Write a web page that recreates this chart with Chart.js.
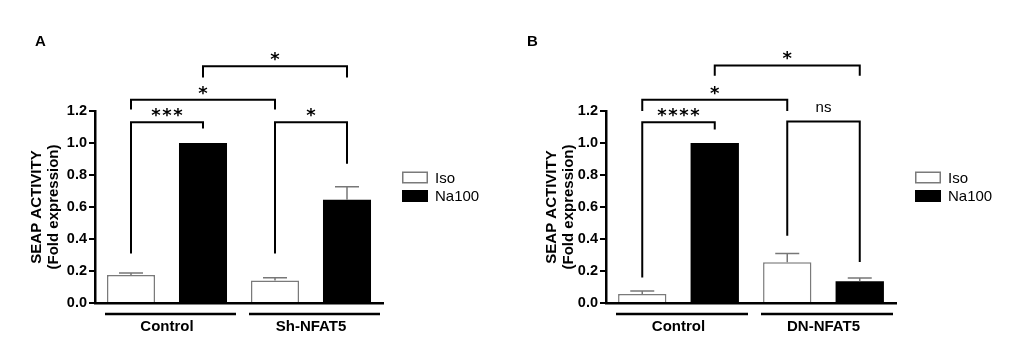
<!DOCTYPE html>
<html>
<head>
<meta charset="utf-8">
<script src="https://cdn.jsdelivr.net/npm/chart.js@4/dist/chart.umd.min.js"></script>
<style>
  html, body { margin: 0; padding: 0; background: #fff; }
  #wrap { position: relative; width: 1016px; height: 362px; }
  canvas { position: absolute; top: 0; }
</style>
</head>
<body>
<div id="wrap">
  <canvas id="chartA" width="508" height="362" style="left:0"></canvas>
  <canvas id="chartB" width="508" height="362" style="left:508px"></canvas>
</div>
<script>
const seriesNames = ["Iso", "Na100"];
const yTicks = [0, 0.2, 0.4, 0.6, 0.8, 1.0, 1.2];
const yTitle = ["SEAP ACTIVITY", "(Fold expression)"];

// panel A
const groupsA = ["Control", "Sh-NFAT5"];
const isoA = [0.175, 0.14];
const isoErrA = [0.013, 0.018];
const naA = [1.0, 0.645];
const naErrA = [0, 0.082];
// from/to = [series, group], top and leg ends in y units
const bracketsA = [
  { from: [0, 0], to: [1, 0], top: 1.13, ends: [0.31, 1.09], label: "***" },
  { from: [0, 0], to: [0, 1], top: 1.27, ends: [1.21, 1.21], label: "*" },
  { from: [0, 1], to: [1, 1], top: 1.13, ends: [0.31, 0.87], label: "*" },
  { from: [1, 0], to: [1, 1], top: 1.48, ends: [1.41, 1.41], label: "*" }
];

// panel B
const groupsB = ["Control", "DN-NFAT5"];
const isoB = [0.056, 0.254];
const isoErrB = [0.019, 0.056];
const naB = [1.0, 0.136];
const naErrB = [0, 0.02];
const bracketsB = [
  { from: [0, 0], to: [1, 0], top: 1.13, ends: [0.16, 1.085], label: "****" },
  { from: [0, 0], to: [0, 1], top: 1.27, ends: [1.2, 1.2], label: "*" },
  { from: [0, 1], to: [1, 1], top: 1.135, ends: [0.42, 0.256], label: "ns" },
  { from: [1, 0], to: [1, 1], top: 1.485, ends: [1.42, 1.42], label: "*" }
];

Chart.defaults.font.family = "'Liberation Sans', Arial, sans-serif";
Chart.defaults.color = "#000";

const annotate = {
  id: "annotate",
  afterDraw(chart, args, opts) {
    const ctx = chart.ctx;
    const x = chart.scales.x, y = chart.scales.y;
    const area = chart.chartArea;
    ctx.save();

    // error bars (upper only)
    chart.data.datasets.forEach((ds, di) => {
      const meta = chart.getDatasetMeta(di);
      meta.data.forEach((bar, i) => {
        const err = opts.errors[di][i];
        if (!err) return;
        const yTop = y.getPixelForValue(ds.data[i] + err);
        ctx.strokeStyle = "#777";
        ctx.lineWidth = 1.5;
        ctx.beginPath();
        ctx.moveTo(bar.x, bar.y);
        ctx.lineTo(bar.x, yTop);
        ctx.moveTo(bar.x - 12, yTop);
        ctx.lineTo(bar.x + 12, yTop);
        ctx.stroke();
      });
    });

    // group underlines
    const cw = area.width / chart.data.labels.length;
    ctx.strokeStyle = "#000";
    ctx.lineWidth = 2.5;
    chart.data.labels.forEach((l, i) => {
      const cx = x.getPixelForValue(i);
      ctx.beginPath();
      ctx.moveTo(cx - cw / 2 + 10, area.bottom + 11);
      ctx.lineTo(cx + cw / 2 - 3, area.bottom + 11);
      ctx.stroke();
    });

    // significance brackets
    ctx.lineWidth = 2;
    ctx.fillStyle = "#000";
    ctx.textAlign = "center";
    ctx.textBaseline = "alphabetic";
    opts.brackets.forEach(b => {
      const p1 = chart.getDatasetMeta(b.from[0]).data[b.from[1]];
      const p2 = chart.getDatasetMeta(b.to[0]).data[b.to[1]];
      const yt = y.getPixelForValue(b.top);
      ctx.beginPath();
      ctx.moveTo(p1.x, y.getPixelForValue(b.ends[0]));
      ctx.lineTo(p1.x, yt);
      ctx.lineTo(p2.x, yt);
      ctx.lineTo(p2.x, y.getPixelForValue(b.ends[1]));
      ctx.stroke();
      const mx = (p1.x + p2.x) / 2;
      if (b.label === "ns") {
        ctx.font = "15px 'Liberation Sans', Arial, sans-serif";
        ctx.fillText(b.label, mx, yt - 9);
      } else {
        ctx.font = "bold 18px 'DejaVu Sans', sans-serif";
        const n = b.label.length;
        for (let k = 0; k < n; k++) {
          ctx.fillText("*", mx - (n - 1) * 11 / 2 + k * 11, yt - 1);
        }
      }
    });

    // legend
    const lx = area.right + 19;
    ctx.textAlign = "left";
    ctx.textBaseline = "middle";
    ctx.font = "15px 'Liberation Sans', Arial, sans-serif";
    chart.data.datasets.forEach((ds, i) => {
      const cy = 177.5 + 18.5 * i;
      ctx.fillStyle = ds.backgroundColor;
      ctx.fillRect(lx, cy - 6, 26, 12);
      if (i === 0) {
        ctx.strokeStyle = ds.borderColor;
        ctx.lineWidth = 1.5;
        ctx.strokeRect(lx + 0.75, cy - 5.25, 24.5, 10.5);
      }
      ctx.fillStyle = "#000";
      ctx.fillText(ds.label, lx + 33, cy + 1);
    });

    // panel letter
    ctx.font = "bold 15px 'Liberation Sans', Arial, sans-serif";
    ctx.fillText(opts.letter, opts.letterX, 42);
    ctx.restore();
  }
};

function makePanel(id, groups, iso, isoErr, na, naErr, brackets, letter, letterX, padLeft, padRight) {
  const ctx = document.getElementById(id);
  return new Chart(ctx, {
    type: "bar",
    data: {
      labels: groups,
      datasets: [{
        label: seriesNames[0],
        data: iso,
        backgroundColor: "#fff",
        borderColor: "#7a7a7a",
        borderWidth: 1.5,
        categoryPercentage: 1.0,
        barPercentage: 0.667
      }, {
        label: seriesNames[1],
        data: na,
        backgroundColor: "#000",
        borderColor: "#000",
        borderWidth: 0,
        categoryPercentage: 1.0,
        barPercentage: 0.667
      }]
    },
    options: {
      responsive: false,
      animation: false,
      layout: { padding: { left: padLeft, right: padRight, top: 111, bottom: 29 } },
      scales: {
        x: {
          grid: { display: false, drawTicks: false },
          border: { display: true, color: "#000", width: 2.5 },
          ticks: { padding: 15, font: { size: 15, weight: "bold" }, color: "#000" },
          afterFit: (s) => { s.height = 30; }
        },
        y: {
          min: 0,
          max: 1.2,
          afterBuildTicks: (s) => { s.ticks = yTicks.map(v => ({ value: v })); },
          grid: { drawOnChartArea: false, drawTicks: true, tickLength: 6, color: "#000", lineWidth: 2 },
          border: { display: true, color: "#000", width: 2.5 },
          ticks: {
            padding: 2,
            font: { size: 14.5, weight: "bold" },
            color: "#000",
            callback: (v) => Number(v).toFixed(1)
          },
          title: {
            display: true,
            text: yTitle,
            font: { size: 15, weight: "bold", lineHeight: 1.1 },
            color: "#000",
            padding: { top: 1, bottom: 0 }
          },
          afterFit: (s) => { s.width = (letter === "A" ? 95 : 98) - padLeft; }
        }
      },
      plugins: {
        legend: { display: false },
        tooltip: { enabled: false },
        annotate: {
          errors: [isoErr, naErr],
          brackets: brackets,
          letter: letter,
          letterX: letterX
        }
      }
    },
    plugins: [annotate]
  });
}

makePanel("chartA", groupsA, isoA, isoErrA, naA, naErrA, bracketsA, "A", 35, 28, 125);
makePanel("chartB", groupsB, isoB, isoErrB, naB, naErrB, bracketsB, "B", 19, 35, 120);
</script>
</body>
</html>
